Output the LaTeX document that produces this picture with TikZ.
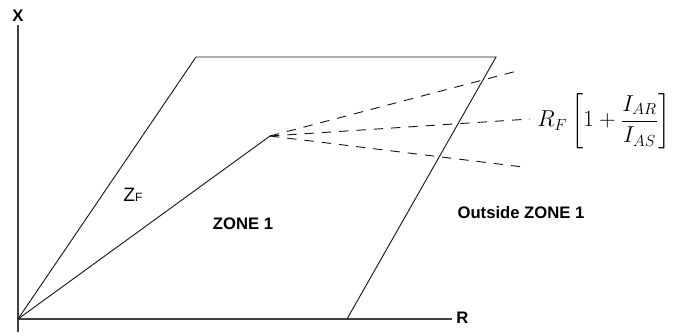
\documentclass[tikz,border=0pt]{standalone}
\usepackage{fontspec}
\usepackage{amsmath}
\newfontfamily\arialfont{Liberation Sans}
\usetikzlibrary{positioning}
\definecolor{axiscol}{rgb}{0.25, 0.25, 0.25}
\definecolor{edgecol}{rgb}{0.10, 0.10, 0.10}
\tikzset{
  axis line/.style={line width=1.1pt, axiscol},
  zone line/.style={line width=0.7pt, edgecol},
  locus line/.style={line width=0.7pt, edgecol, dash pattern=on 7pt off 6pt},
  axis lbl/.style={font=\arialfont\bfseries\fontsize{12.5}{15}\selectfont,
                   inner sep=0pt},
  zone lbl/.style={font=\arialfont\bfseries\fontsize{12.5}{15}\selectfont,
                   inner sep=0pt},
  imp lbl/.style={font=\arialfont\fontsize{14.5}{16}\selectfont, inner sep=0pt},
  eq lbl/.style={font=\fontsize{18}{21}\selectfont, inner sep=0pt,
                 anchor=west},
}

\begin{document}
\begin{tikzpicture}[x=0.75pt, y=-0.75pt]
    \useasboundingbox (0,0) rectangle (677,335);

    % axes
    \coordinate (O) at (18,319);
    \coordinate (ytop) at (18,25);
    \coordinate (ybot) at (18,332);
    \coordinate (xend) at (452,319);
    \draw[axis line] (ybot) -- (ytop);
    \draw[axis line] (O) -- (xend);
    \node[axis lbl] (xlbl) at (18,16) {X};
    \node[axis lbl, anchor=west] (rlbl) at (456,318) {R};

    % zone 1 quadrilateral
    \coordinate (tl) at (196,57);
    \coordinate (tr) at (496,57);
    \coordinate (br) at (347,319);
    \coordinate (knee) at (270,136);
    \draw[zone line] (O) -- (tl) -- (tr) -- (br);
    \draw[zone line] (O) -- (knee);

    % resistive reach loci
    \coordinate (up) at (517,71);
    \coordinate (mid) at (530,119);
    \coordinate (low) at (523,167);
    \draw[locus line] (knee) -- (up);
    \draw[locus line] (knee) -- (mid);
    \draw[locus line] (knee) -- (low);
    \node[eq lbl] (reach) at (537,121)
        {$R_F\left[1+\dfrac{I_{AR}}{I_{AS}}\right]$};

    % labels
    \node[imp lbl] (zf) at (133,195) {Z{\fontsize{9}{10}\selectfont F}};
    \node[zone lbl] (zone) at (243,224) {ZONE 1};
    \node[zone lbl] (outzone) at (521,213) {Outside ZONE 1};
\end{tikzpicture}
\end{document}
